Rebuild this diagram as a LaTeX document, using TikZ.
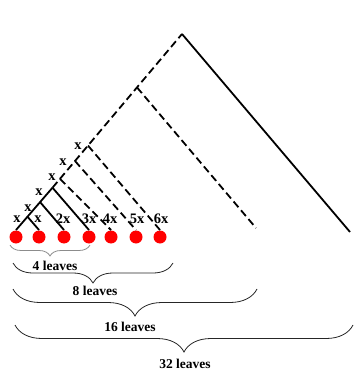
\documentclass[tikz,border=0pt]{standalone}
\usepackage{fontspec}
\setmainfont{Liberation Serif}
\usetikzlibrary{decorations.pathreplacing}
\begin{document}
\begin{tikzpicture}[x=1pt,y=-1pt,
  solidedge/.style={line width=1.8pt},
  dashedge/.style={line width=1.8pt,dash pattern=on 7.5pt off 4pt},
  leafdot/.style={circle,fill=red,inner sep=0pt,minimum size=13pt},
  lbl/.style={font=\fontsize{14.5}{15}\selectfont\bfseries,inner sep=0pt},
  brc/.style={decorate,decoration={brace,mirror,amplitude=#1},line width=0.8pt,draw=black!85},
  bigtxt/.style={font=\fontsize{13.5}{15}\selectfont\bfseries,inner sep=0pt}]
\useasboundingbox (0,0) rectangle (353,371);
% leaves
\foreach \i/\x in {1/16,2/39,3/64,4/89,5/111,6/136,7/160}{
  \node[leafdot] (d\i) at (\x,237) {};
  \coordinate (t\i) at (\x,230);
}
% internal nodes
\coordinate (A) at (27.5,216.7);
\coordinate (B) at (40,202);
\coordinate (C) at (52.5,187.7);
\coordinate (D) at (60,178.8);
\coordinate (E) at (75,161);
\coordinate (F) at (88,145.6);
\coordinate (G) at (137,87.4);
\coordinate (R) at (182,34);
\coordinate (e1) at (256,228);
\coordinate (e2) at (350,232);
% solid subtree
\draw[solidedge] (t1) -- (C);
\draw[solidedge] (t2) -- (A);
\draw[solidedge] (t3) -- (B);
\draw[solidedge] (t4) -- (C);
% dashed spine and branches
\draw[dashedge] (C) -- (R);
\draw[dashedge] (D) -- (t5);
\draw[dashedge] (E) -- (t6);
\draw[dashedge] (F) -- (t7);
\draw[dashedge] (G) -- (e1);
\draw[solidedge] (R) -- (e2);
% labels
\node[lbl] (l1) at (17,219) {x};
\node[lbl] (l2) at (38,219) {x};
\node[lbl] (l3) at (63,219) {2x};
\node[lbl] (l4) at (89,219) {3x};
\node[lbl] (l5) at (110,219) {4x};
\node[lbl] (l6) at (137,219) {5x};
\node[lbl] (l7) at (161,219) {6x};
\node[lbl] (la) at (28,208) {x};
\node[lbl] (lb) at (39,192) {x};
\node[lbl] (lc) at (52,177) {x};
\node[lbl] (ld) at (63,162) {x};
\node[lbl] (le) at (78,146) {x};
% braces
\coordinate (b4l) at (10,245); \coordinate (b4r) at (90,245);
\coordinate (b8l) at (13,263); \coordinate (b8r) at (173,263);
\coordinate (b16l) at (13,289); \coordinate (b16r) at (257,289);
\coordinate (b32l) at (15,325); \coordinate (b32r) at (353,325);
\draw[brc=11pt,draw=black!45] (b4l) -- (b4r);
\draw[brc=20pt] (b8l) -- (b8r);
\draw[brc=27pt] (b16l) -- (b16r);
\draw[brc=27pt] (b32l) -- (b32r);
\node[bigtxt] (t4l) at (55,266) {4 leaves};
\node[bigtxt] (t8l) at (95,291) {8 leaves};
\node[bigtxt] (t16l) at (130,327) {16 leaves};
\node[bigtxt] (t32l) at (185,364) {32 leaves};
\end{tikzpicture}
\end{document}
